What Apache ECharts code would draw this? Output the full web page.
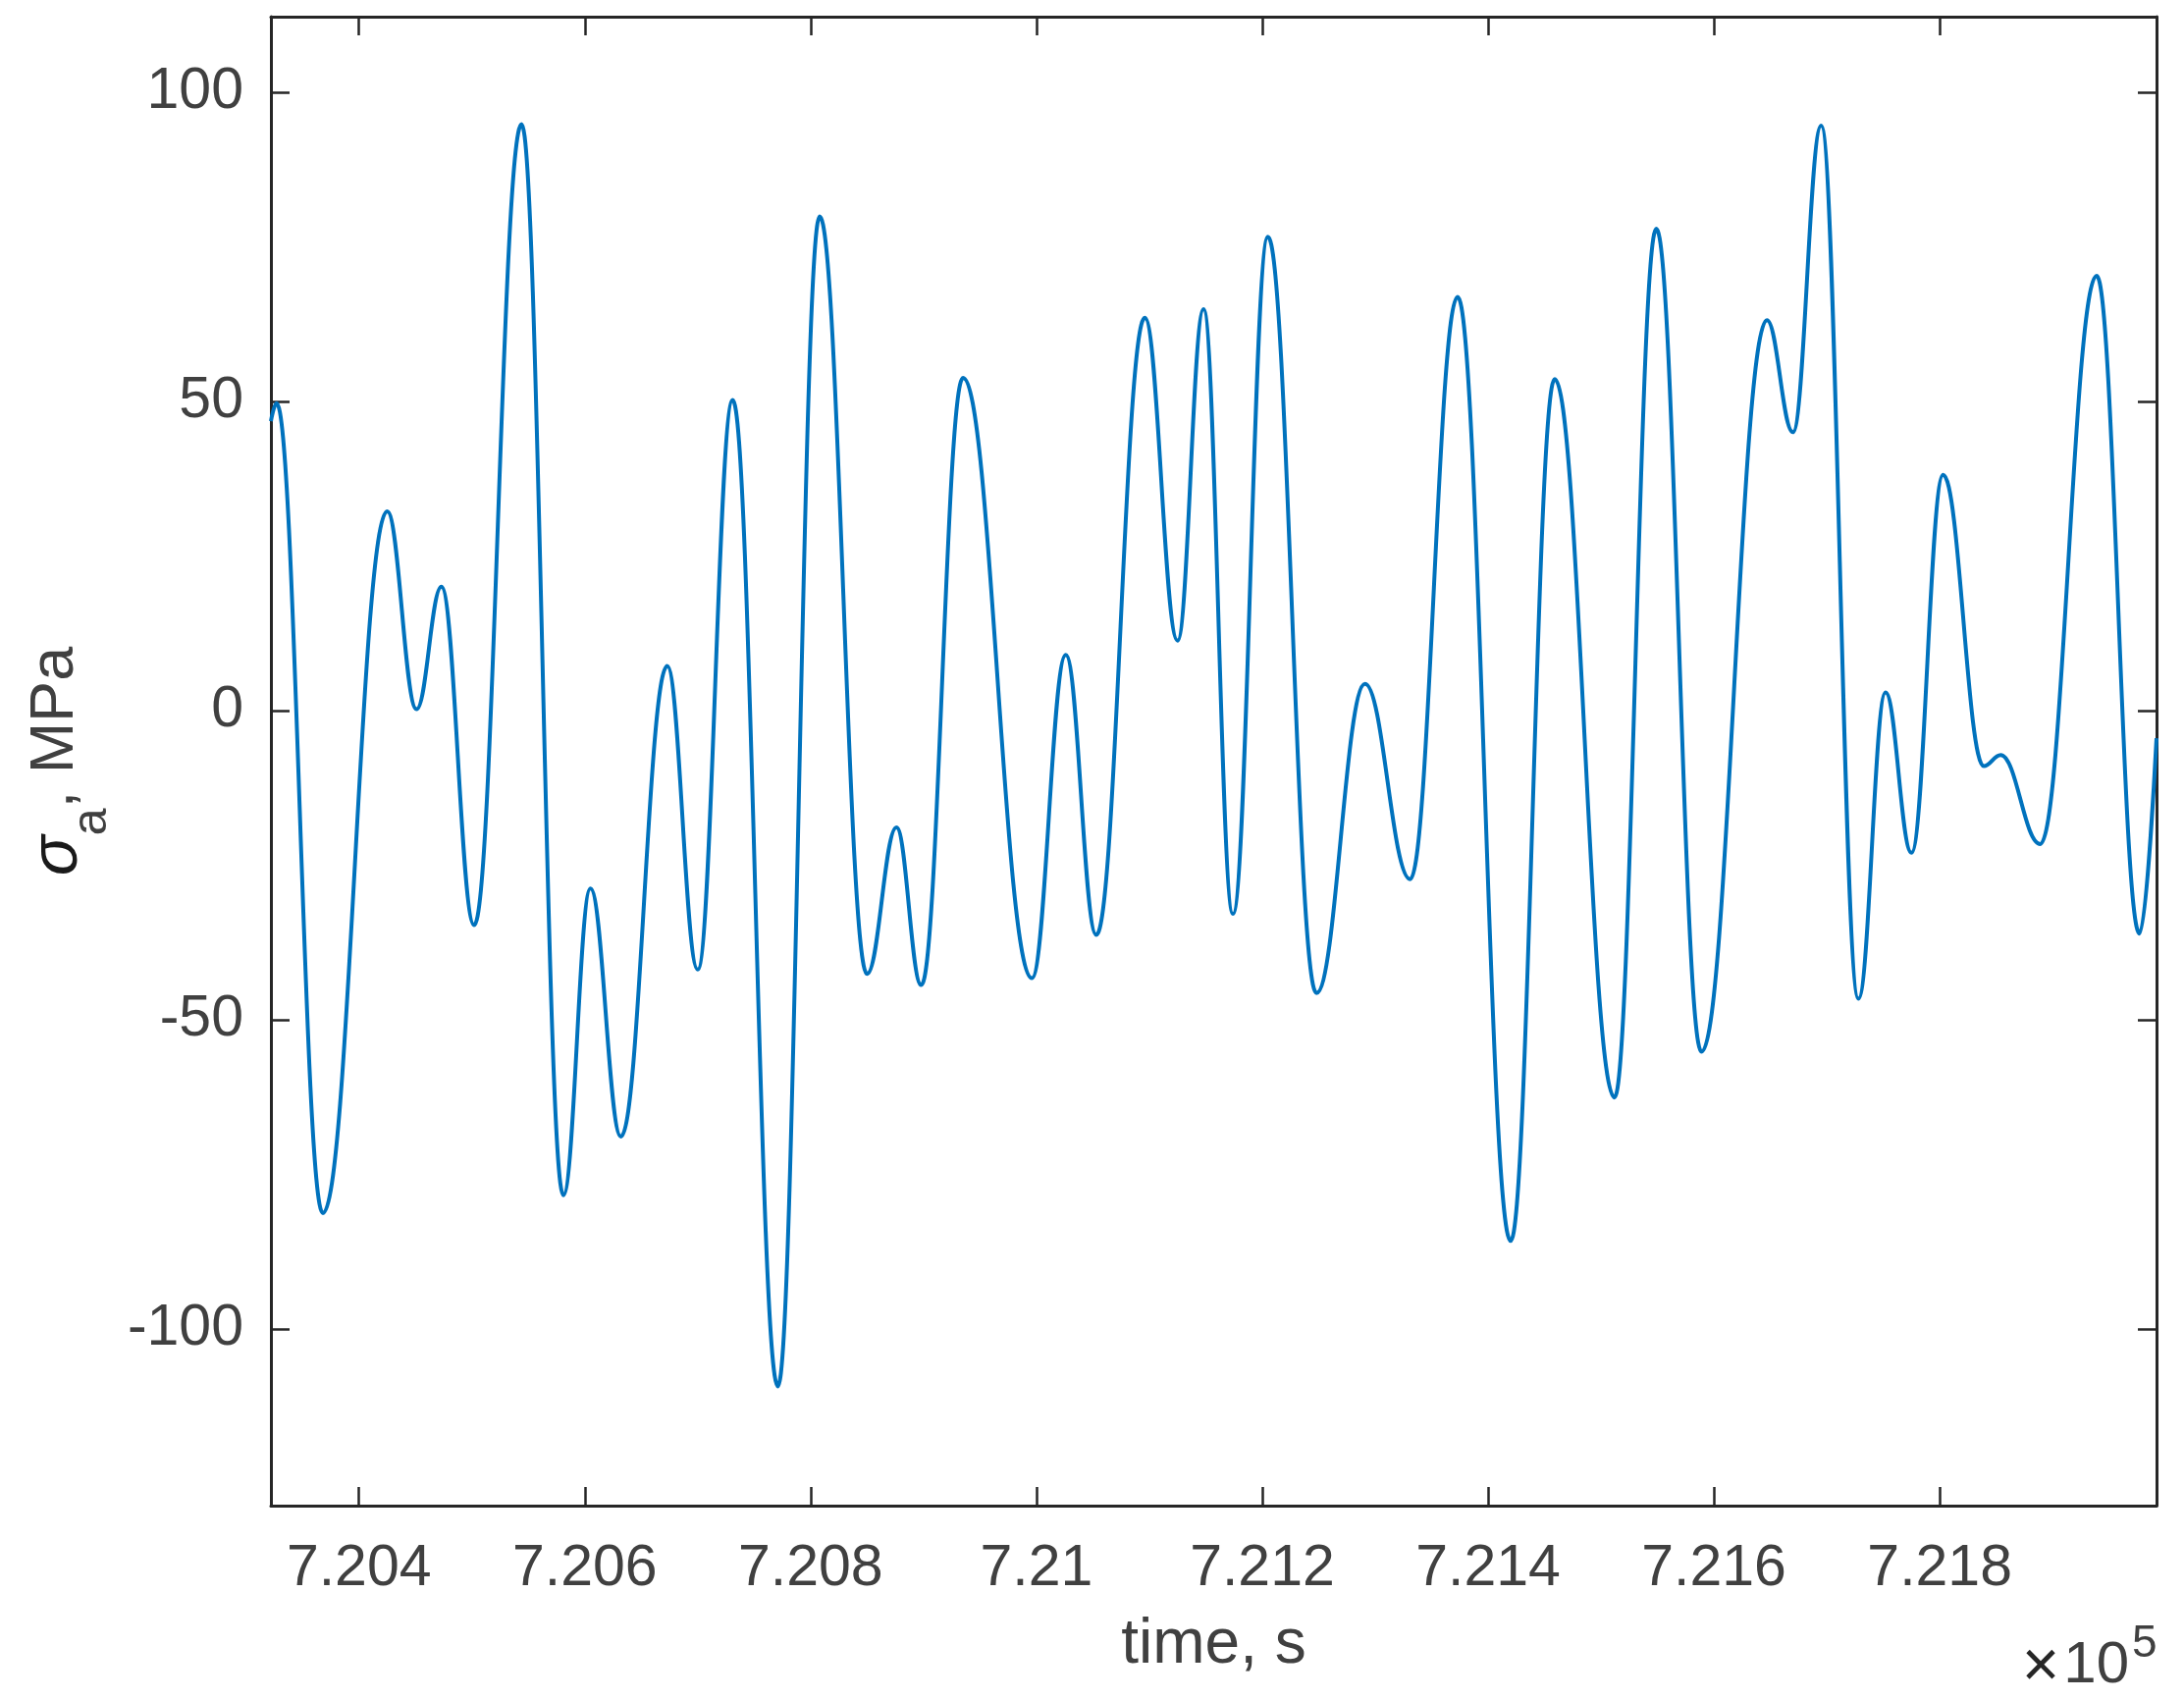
<!DOCTYPE html>
<html>
<head>
<meta charset="utf-8">
<script src="https://cdn.jsdelivr.net/npm/echarts@6/dist/echarts.min.js"></script>
<style>
html,body{margin:0;padding:0;background:#ffffff;}
#chart{width:2225px;height:1731px;}
</style>
</head>
<body>
<div id="chart"></div>
<script>
// ---- data (time in s, stress in MPa) ----
const timeS = [720322, 720327, 720368, 720425, 720451, 720473, 720502, 720544, 720581, 720605,
               720632, 720673, 720700, 720731, 720771, 720808, 720850, 720876, 720898, 720935,
               720996, 721026, 721053, 721096, 721125, 721148, 721174, 721205, 721248, 721291,
               721331, 721373, 721420, 721459, 721512, 721549, 721589, 721647, 721670, 721695,
               721728, 721752, 721775, 721803, 721839, 721854, 721889, 721939, 721977, 721992];
const stressMPa = [46.8, 49.7, -81.3, 32.2, 0.2, 20.0, -34.7, 94.8, -78.4, -28.8,
                   -68.9, 7.2, -41.9, 50.2, -109.3, 79.9, -42.6, -18.9, -44.4, 53.8,
                   -43.3, 9.0, -36.3, 63.5, 11.3, 64.9, -32.9, 76.6, -45.7, 4.3,
                   -27.3, 66.9, -85.8, 53.6, -62.6, 77.9, -55.2, 63.1, 45.0, 94.6,
                   -46.6, 2.9, -23.0, 38.1, -9.0, -7.2, -21.6, 70.3, -36.1, -4.5];
const xRange = [720322, 721992];
const yRange = [-128.6, 112.2];
const xTickValues = [720400, 720600, 720800, 721000, 721200, 721400, 721600, 721800];
const xTickLabels = ['7.204', '7.206', '7.208', '7.21', '7.212', '7.214', '7.216', '7.218'];
const yTickValues = [-100, -50, 0, 50, 100];
const yTickLabels = ['-100', '-50', '0', '50', '100'];
const xTitle = 'time, s';
const exponentText = ['\u00d7', '10', '5'];

// ---- styling ----
const FONT = '"Liberation Sans", Arial, Helvetica, sans-serif';
const AXIS_COLOR = '#262626';
const TEXT_COLOR = '#404040';
const LINE_COLOR = '#0072BD';

const chart = echarts.init(document.getElementById('chart'), null, {renderer: 'canvas'});

function axisBase() {
  return {
    axisLine: {show: true, onZero: false, lineStyle: {color: AXIS_COLOR, width: 3}},
    splitLine: {show: false}
  };
}

const option = {
  backgroundColor: '#ffffff',
  animation: false,
  grid: {left: 276, right: 28, top: 17, bottom: 197, containLabel: false, outerBoundsMode: 'none'},
  xAxis: [
    Object.assign(axisBase(), {
      type: 'value', position: 'bottom', min: xRange[0], max: xRange[1],
      axisTick: {show: true, inside: true, length: 19, customValues: xTickValues,
                 lineStyle: {color: AXIS_COLOR, width: 2.5}},
      axisLabel: {show: true, customValues: xTickValues, margin: 35,
                  fontFamily: FONT, fontSize: 59, color: TEXT_COLOR,
                  formatter: v => { const i = xTickValues.indexOf(v); return i >= 0 ? xTickLabels[i] : ''; }},
      name: xTitle, nameLocation: 'middle', nameGap: 110,
      nameTextStyle: {fontFamily: FONT, fontSize: 64, color: TEXT_COLOR}
    }),
    Object.assign(axisBase(), {
      type: 'value', position: 'top', min: xRange[0], max: xRange[1],
      axisTick: {show: true, inside: true, length: 19, customValues: xTickValues,
                 lineStyle: {color: AXIS_COLOR, width: 2.5}},
      axisLabel: {show: false}
    })
  ],
  yAxis: [
    Object.assign(axisBase(), {
      type: 'value', position: 'left', min: yRange[0], max: yRange[1],
      axisTick: {show: true, inside: true, length: 19, customValues: yTickValues,
                 lineStyle: {color: AXIS_COLOR, width: 2.5}},
      axisLabel: {show: true, customValues: yTickValues, margin: 28,
                  fontFamily: FONT, fontSize: 59, color: TEXT_COLOR,
                  formatter: v => { const i = yTickValues.indexOf(v); return i >= 0 ? yTickLabels[i] : ''; }},
      name: '{sig|\u03c3}{sub|a}{txt|, MPa}', nameLocation: 'middle', nameGap: 180, nameRotate: 90,
      nameTextStyle: {
        fontFamily: FONT, fontSize: 63, color: TEXT_COLOR,
        rich: {
          sig: {fontFamily: FONT, fontStyle: 'italic', fontSize: 68, color: '#1a1a1a', lineHeight: 70, verticalAlign: 'top'},
          sub: {fontFamily: FONT, fontSize: 50, color: TEXT_COLOR, lineHeight: 50, padding: [44, 0, 0, 0], verticalAlign: 'top'},
          txt: {fontFamily: FONT, fontSize: 63, color: TEXT_COLOR, lineHeight: 70, verticalAlign: 'top'}
        }
      }
    }),
    Object.assign(axisBase(), {
      type: 'value', position: 'right', min: yRange[0], max: yRange[1],
      axisTick: {show: true, inside: true, length: 19, customValues: yTickValues,
                 lineStyle: {color: AXIS_COLOR, width: 2.5}},
      axisLabel: {show: false}
    })
  ],
  graphic: [
    {type: 'text', x: 2079, y: 1700, silent: true,
     style: {text: exponentText[0], font: '66px ' + FONT, fill: '#262626', align: 'center', verticalAlign: 'middle'}},
    {type: 'text', x: 2169, y: 1697, silent: true,
     style: {text: exponentText[1], font: '60px ' + FONT, fill: TEXT_COLOR, align: 'right', verticalAlign: 'middle'}},
    {type: 'text', x: 2172, y: 1675, silent: true,
     style: {text: exponentText[2], font: '46px ' + FONT, fill: TEXT_COLOR, align: 'left', verticalAlign: 'middle'}}
  ],
  series: [{
    type: 'line',
    xAxisIndex: 0, yAxisIndex: 0,
    data: timeS.map((t, i) => [t, stressMPa[i]]),
    showSymbol: false,
    smooth: 0.4,
    smoothMonotone: 'x',
    clip: true,
    lineStyle: {color: LINE_COLOR, width: 4},
    itemStyle: {color: LINE_COLOR}
  }]
};
chart.setOption(option);
</script>
</body>
</html>
